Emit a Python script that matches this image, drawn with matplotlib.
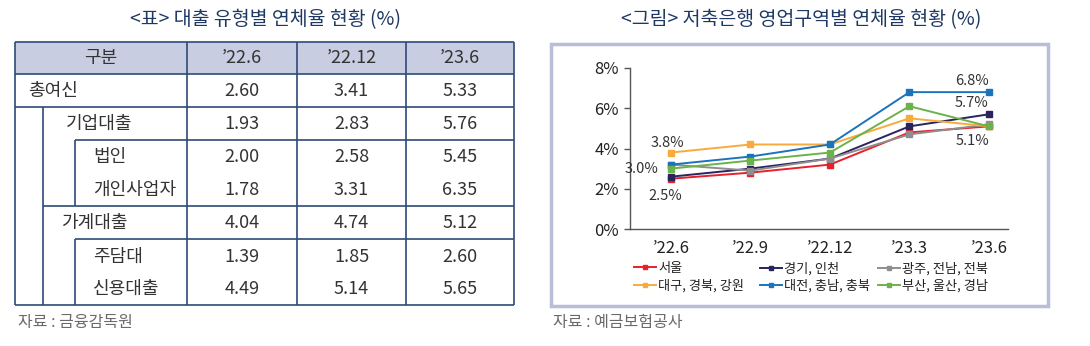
import matplotlib.pyplot as plt
from matplotlib.patches import Rectangle

plt.rcParams['font.family'] = ['Noto Sans CJK KR', 'DejaVu Sans']

# 표 데이터
표_제목 = "<표> 대출 유형별 연체율 현황 (%)"
표_열 = ["’22.6", "’22.12", "’23.6"]
표_행 = ["총여신", "기업대출", "법인", "개인사업자", "가계대출", "주담대", "신용대출"]
표_값 = [
    [2.60, 3.41, 5.33],
    [1.93, 2.83, 5.76],
    [2.00, 2.58, 5.45],
    [1.78, 3.31, 6.35],
    [4.04, 4.74, 5.12],
    [1.39, 1.85, 2.60],
    [4.49, 5.14, 5.65],
]

# 그림 데이터
그림_제목 = "<그림> 저축은행 영업구역별 연체율 현황 (%)"
기간 = ["’22.6", "’22.9", "’22.12", "’23.3", "’23.6"]
서울 = [2.5, 2.8, 3.2, 4.8, 5.1]
경기인천 = [2.6, 3.0, 3.5, 5.1, 5.7]
광주전남전북 = [3.2, 2.9, 3.5, 4.7, 5.2]
대구경북강원 = [3.8, 4.2, 4.2, 5.5, 5.1]
대전충남충북 = [3.2, 3.6, 4.2, 6.8, 6.8]
부산울산경남 = [3.0, 3.4, 3.8, 6.1, 5.1]

W, H = 1090, 346
fig = plt.figure(figsize=(W / 100, H / 100), dpi=100)
fig.patch.set_facecolor('white')

# 픽셀 좌표용 배경 축
bg = fig.add_axes([0, 0, 1, 1])
bg.set_xlim(0, W)
bg.set_ylim(H, 0)
bg.axis('off')

제목색 = '#1f3863'
선색 = '#2e4a78'
글자색 = '#333333'

# ---- 왼쪽: 표 ----
bg.text(265, 20, 표_제목, ha='center', va='center', fontsize=14, color=제목색)

좌, 우 = 15, 514
열경계 = [15, 187, 297, 406, 514]
bg.add_patch(Rectangle((좌, 42), 우 - 좌, 32, facecolor='#c9cde1', edgecolor='none'))

def 선(x0, x1, y0, y1):
    bg.plot([x0, x1], [y0, y1], color=선색, lw=1.2, solid_capstyle='butt')

# 가로선
선(좌, 우, 42, 42)
선(좌, 우, 74, 74)
선(좌, 우, 107, 107)
선(75, 우, 140, 140)
선(43, 우, 206, 206)
선(75, 우, 239, 239)
선(좌, 우, 305, 305)
# 세로선
for x in 열경계:
    선(x, x, 42, 305)
선(43, 43, 107, 305)
선(75, 75, 140, 206)
선(75, 75, 239, 305)

bg.text(101, 58, "구분", ha='center', va='center', fontsize=13, color=글자색)
열중심 = [(열경계[i + 1] + 열경계[i + 2]) / 2 for i in range(3)]
for cx, lab in zip(열중심, 표_열):
    bg.text(cx, 58, lab, ha='center', va='center', fontsize=13, color=글자색)

행중심 = [91, 124, 157, 190, 223, 257, 289]
행들여쓰기 = [28, 66, 93, 93, 61, 93, 93]
for y, x, 이름, 값 in zip(행중심, 행들여쓰기, 표_행, 표_값):
    bg.text(x, y, 이름, ha='left', va='center', fontsize=13, color=글자색)
    for cx, v in zip(열중심, 값):
        bg.text(cx, y, f"{v:.2f}", ha='center', va='center', fontsize=13, color=글자색)

bg.text(18, 323, "자료 : 금융감독원", ha='left', va='center', fontsize=11.5, color='#6a6a6a')

# ---- 오른쪽: 선 그래프 ----
bg.text(801, 20, 그림_제목, ha='center', va='center', fontsize=14, color=제목색)
bg.add_patch(Rectangle((551, 44), 497, 262, facecolor='white', edgecolor='#b9bed6', lw=2.5))
bg.text(553, 323, "자료 : 예금보험공사", ha='left', va='center', fontsize=11.5, color='#6a6a6a')

ax = fig.add_axes([630 / W, 1 - 229 / H, (1008 - 630) / W, (229 - 68) / H])
ax.set_facecolor('none')

계열 = [
    ("서울", 서울, '#e8202a'),
    ("경기, 인천", 경기인천, '#29245e'),
    ("광주, 전남, 전북", 광주전남전북, '#8e8e8e'),
    ("대구, 경북, 강원", 대구경북강원, '#f9aa3c'),
    ("대전, 충남, 충북", 대전충남충북, '#1b74bb'),
    ("부산, 울산, 경남", 부산울산경남, '#6cb24a'),
]
x = list(range(len(기간)))
핸들 = {}
for 이름, 값, 색 in 계열:
    (h,) = ax.plot(x, 값, color=색, lw=1.4, marker='s', markersize=4.5, label=이름)
    핸들[이름] = h

ax.set_xlim(-0.516, 4.24)
ax.set_ylim(0, 8)
ax.set_yticks([0, 2, 4, 6, 8])
ax.set_yticklabels([f"{v}%" for v in [0, 2, 4, 6, 8]])
ax.set_xticks(x)
ax.set_xticklabels(기간)
for s in ['top', 'right']:
    ax.spines[s].set_visible(False)
for s in ['left', 'bottom']:
    ax.spines[s].set_color('#555555')
    ax.spines[s].set_linewidth(1.0)
ax.tick_params(axis='y', length=4, width=1, color='#555555', labelsize=12, labelcolor='#222222', pad=4)
ax.tick_params(axis='x', length=0, labelsize=12, labelcolor='#222222', pad=8)

# 값 표시
라벨크기 = 10.5
def 값표시(i, 값, dx, dy, ha='center'):
    ax.annotate(f"{값[i]:.1f}%", (i, 값[i]), xytext=(dx, dy), textcoords='offset pixels',
                ha=ha, va='center', fontsize=라벨크기, color='#333333')

값표시(0, 대구경북강원, -4, 10)
값표시(0, 부산울산경남, -13, 0, ha='right')
값표시(0, 서울, -6, -17)
값표시(4, 대전충남충북, -17, 11)
값표시(4, 경기인천, -17, 11)
값표시(4, 서울, -16, -15)

# 범례: 세 열을 따로 배치
열구성 = [["서울", "대구, 경북, 강원"], ["경기, 인천", "대전, 충남, 충북"], ["광주, 전남, 전북", "부산, 울산, 경남"]]
열위치 = [634, 760, 878]
for 이름들, lx in zip(열구성, 열위치):
    leg = fig.legend([핸들[n] for n in 이름들], 이름들, loc='upper left',
                     bbox_to_anchor=(lx / W, 1 - 262 / H), frameon=False, fontsize=9.5,
                     handlelength=1.7, handletextpad=0.15, borderpad=0, borderaxespad=0,
                     labelspacing=0.3, markerscale=0.7)
    for t in leg.get_texts():
        t.set_color('#222222')

fig.savefig("out.png", dpi=100, facecolor='white')
